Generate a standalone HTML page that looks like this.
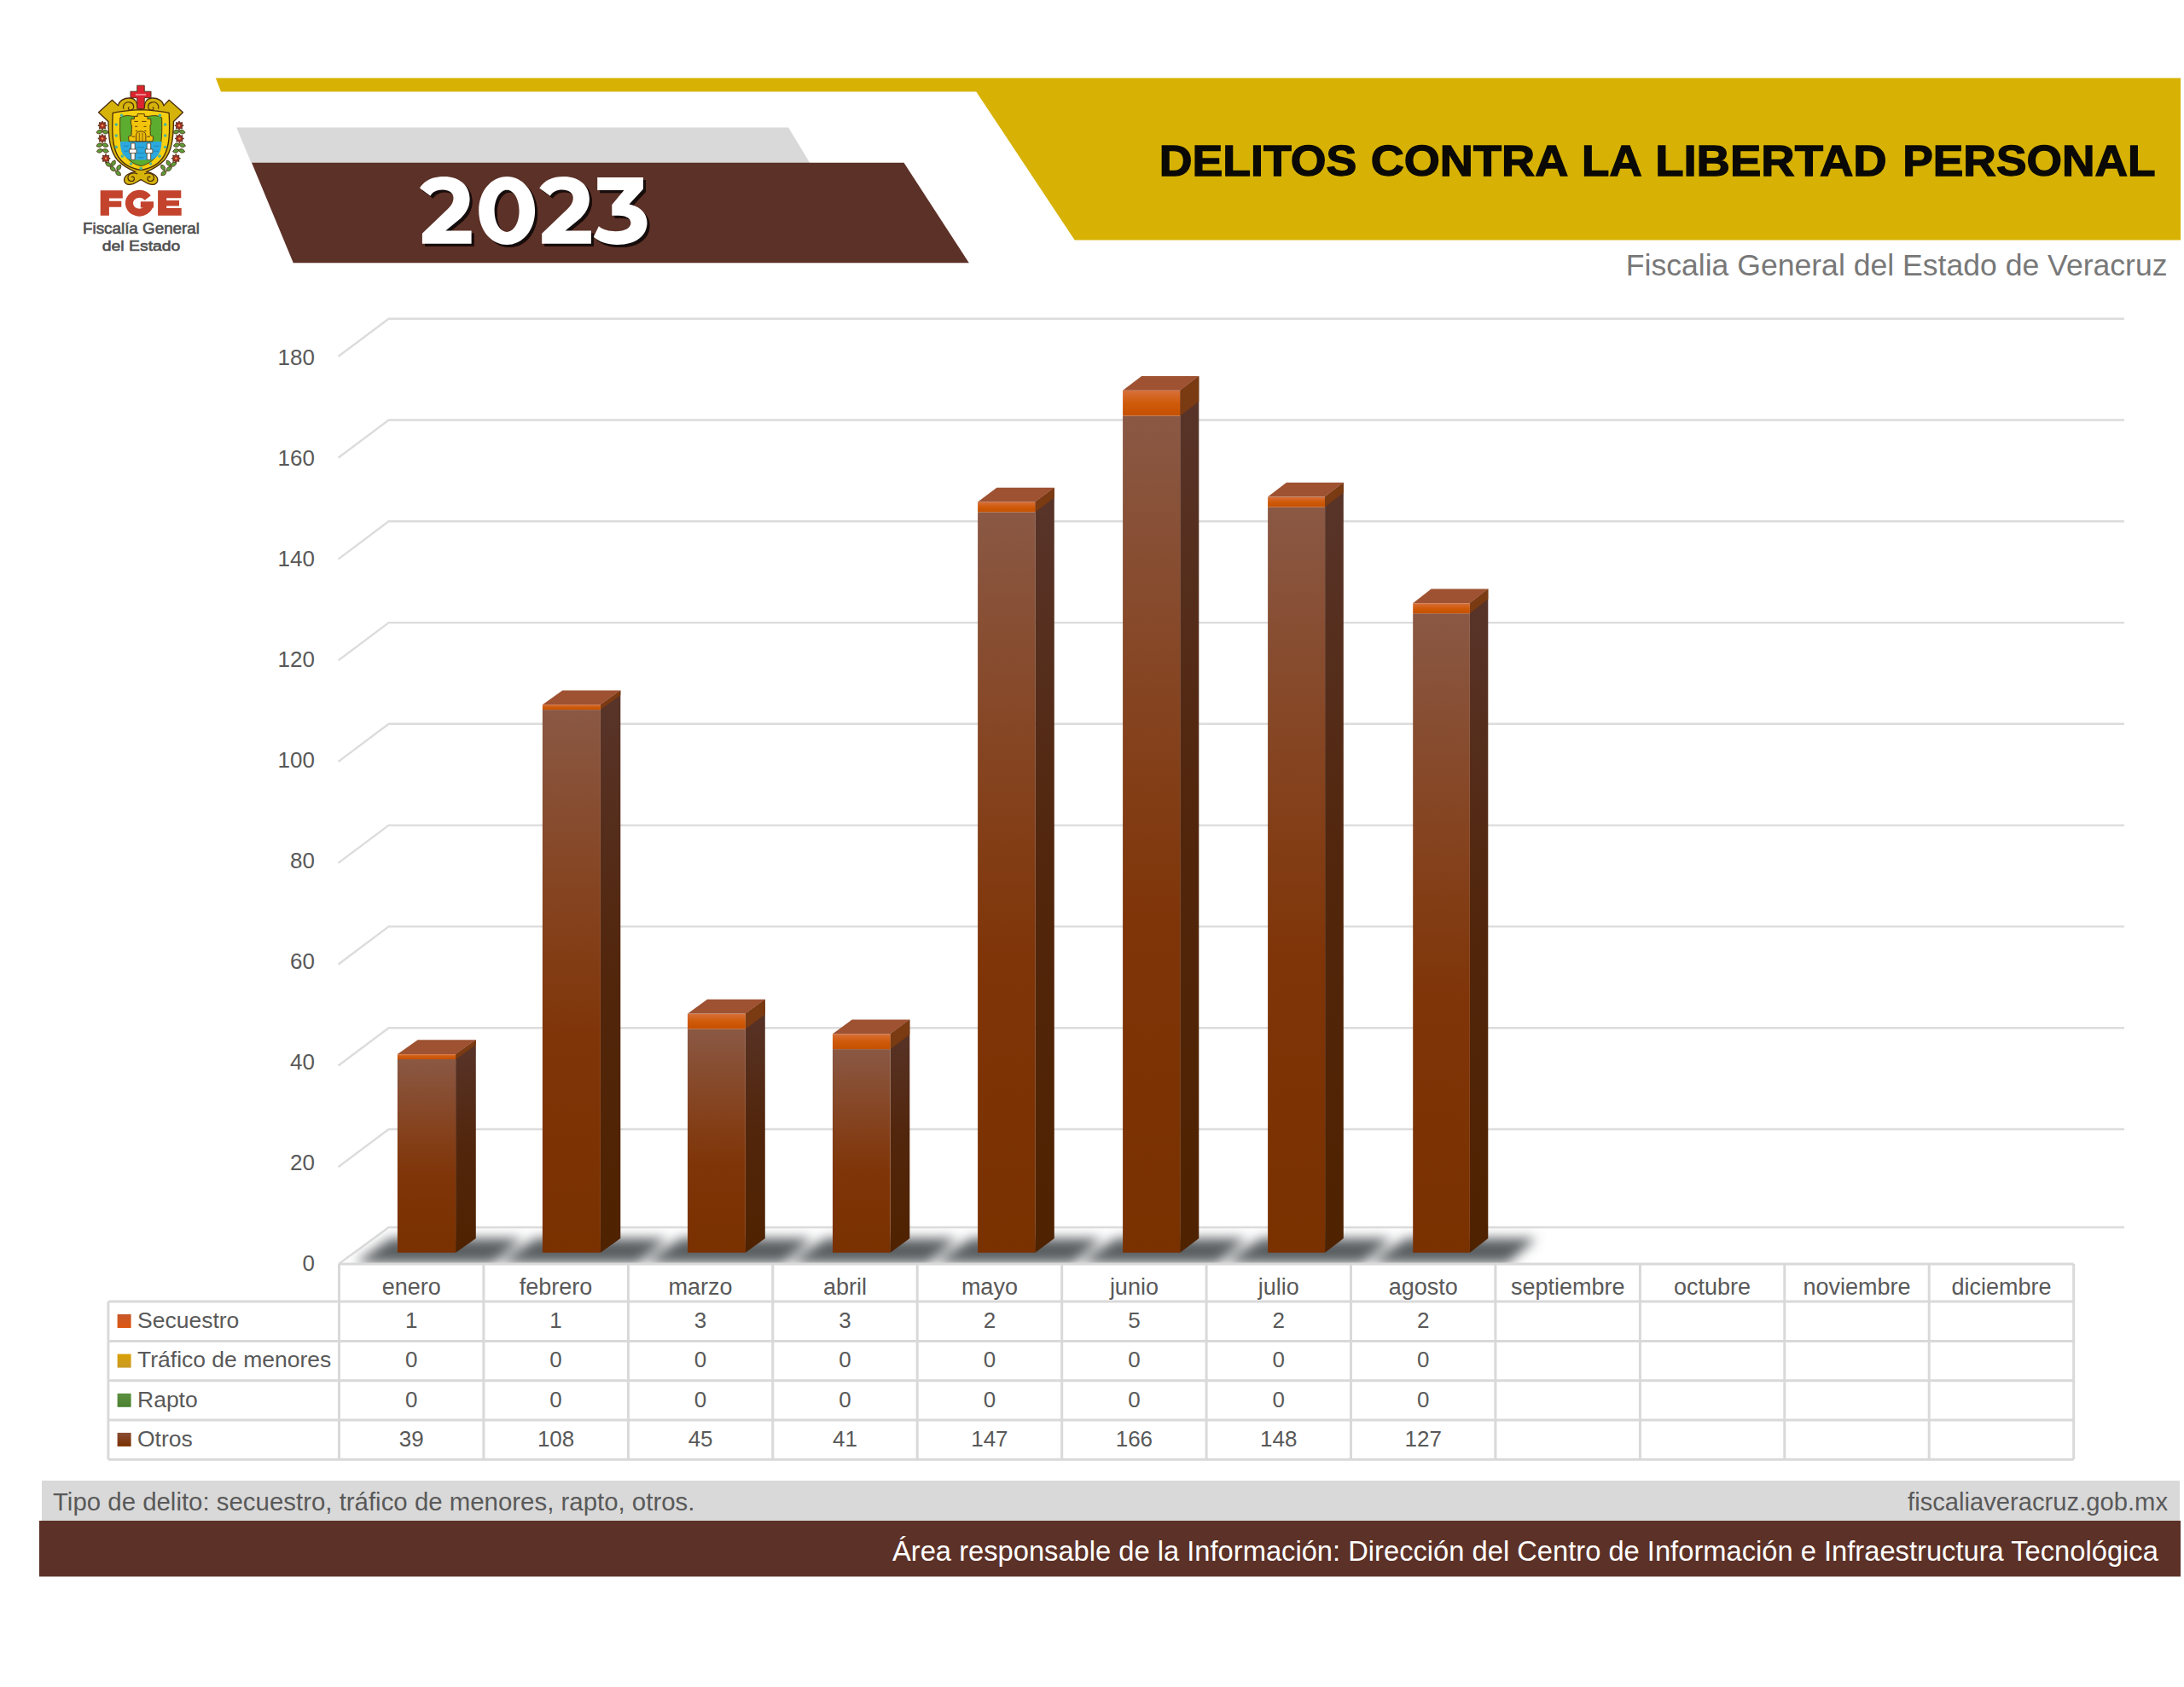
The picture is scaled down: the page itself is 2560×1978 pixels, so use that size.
<!DOCTYPE html>
<html><head><meta charset="utf-8"><title>Delitos contra la libertad personal 2023</title>
<style>html,body{margin:0;padding:0;background:#ffffff;} body{width:2560px;height:1978px;overflow:hidden;} svg{display:block;}</style>
</head><body>
<svg width="2560" height="1978" viewBox="0 0 2560 1978">
<rect width="2560" height="1978" fill="#ffffff"/>
<polygon points="252.8,91.5 2556,91.5 2556,281.6 1259.7,281.6 1144.3,107.4 259,107.4" fill="#d7b204"/>
<polygon points="277.2,149.5 924.2,149.5 949.2,191 294.5,191" fill="#d9d9d9"/>
<polygon points="295,190.8 1059.5,190.8 1135.8,308.2 343.8,308.2" fill="#5c3127"/>
<text x="1358.65" y="206" font-family='"Liberation Sans", sans-serif' font-weight="bold" font-size="50.5" fill="#0a0906" stroke="#0a0906" stroke-width="1.3" textLength="231.8" lengthAdjust="spacingAndGlyphs">DELITOS</text>
<text x="1606.65" y="206" font-family='"Liberation Sans", sans-serif' font-weight="bold" font-size="50.5" fill="#0a0906" stroke="#0a0906" stroke-width="1.3" textLength="231.6" lengthAdjust="spacingAndGlyphs">CONTRA</text>
<text x="1854.1" y="206" font-family='"Liberation Sans", sans-serif' font-weight="bold" font-size="50.5" fill="#0a0906" stroke="#0a0906" stroke-width="1.3" textLength="70.6" lengthAdjust="spacingAndGlyphs">LA</text>
<text x="1940.15" y="206" font-family='"Liberation Sans", sans-serif' font-weight="bold" font-size="50.5" fill="#0a0906" stroke="#0a0906" stroke-width="1.3" textLength="271.6" lengthAdjust="spacingAndGlyphs">LIBERTAD</text>
<text x="2230.15" y="206" font-family='"Liberation Sans", sans-serif' font-weight="bold" font-size="50.5" fill="#0a0906" stroke="#0a0906" stroke-width="1.3" textLength="296.6" lengthAdjust="spacingAndGlyphs">PERSONAL</text>
<text x="1905.8" y="322.7" font-family='"Liberation Sans", sans-serif' font-size="35.4" fill="#787878" textLength="634.7" lengthAdjust="spacingAndGlyphs">Fiscalia General del Estado de Veracruz</text>
<defs><g id="yr"><path d="M492.0,220.4 C498,211 508,206.9 520.3,206.9 C538,206.9 550.6,217 550.6,233 C550.6,242 547,249 540,256 L522.3,270.5 L552.6,270.5 L552.6,285.7 L494.9,285.7 L494.9,273.8 L524.9,245 C529,241 531.5,237 531.5,232 C531.5,226 526,222.4 519,222.4 C512,222.4 507,225 504.5,229.7 Z"/><path d="M594.2,206.9 C612.5,206.9 627.1,224 627.1,247 C627.1,270 612.5,287 594.2,287 C575.9,287 561.2,270 561.2,247 C561.2,224 575.9,206.9 594.2,206.9 Z M594.1,222.7 C586,222.7 579.6,233.5 579.6,247.3 C579.6,261 586,271.9 594.1,271.9 C602.2,271.9 608.6,261 608.6,247.3 C608.6,233.5 602.2,222.7 594.1,222.7 Z" fill-rule="evenodd"/><path d="M492.0,220.4 C498,211 508,206.9 520.3,206.9 C538,206.9 550.6,217 550.6,233 C550.6,242 547,249 540,256 L522.3,270.5 L552.6,270.5 L552.6,285.7 L494.9,285.7 L494.9,273.8 L524.9,245 C529,241 531.5,237 531.5,232 C531.5,226 526,222.4 519,222.4 C512,222.4 507,225 504.5,229.7 Z" transform="translate(140.3,0)"/><path d="M700.2,207.9 L753.9,207.9 L753.9,221.8 L737.5,239.6 C750,242 758.5,250 758.5,261.3 C758.5,276 746,287 723.6,287 C712,287 702,283.5 695.9,277.8 L701.8,265.3 C707,269.5 714,271.2 721.6,271.2 C733,271.2 739.4,267 739.4,261.5 C739.4,256 734,252.7 724.9,252.7 L717.3,252.7 L717.3,240 L731.5,223.1 L700.2,223.1 Z"/></g></defs>
<filter id="sh" x="-10%" y="-10%" width="120%" height="130%"><feGaussianBlur stdDeviation="0.7"/></filter>
<use href="#yr" transform="translate(3.1,3.1)" fill="#140807" filter="url(#sh)"/>
<use href="#yr" fill="#ffffff"/>
<polyline points="396.5,1368.3 455.6,1324.0 2490,1324.0" fill="none" stroke="#dcdcdc" stroke-width="2.4"/>
<polyline points="396.5,1249.5 455.6,1205.2 2490,1205.2" fill="none" stroke="#dcdcdc" stroke-width="2.4"/>
<polyline points="396.5,1130.7 455.6,1086.4 2490,1086.4" fill="none" stroke="#dcdcdc" stroke-width="2.4"/>
<polyline points="396.5,1011.9 455.6,967.6 2490,967.6" fill="none" stroke="#dcdcdc" stroke-width="2.4"/>
<polyline points="396.5,893.1 455.6,848.8 2490,848.8" fill="none" stroke="#dcdcdc" stroke-width="2.4"/>
<polyline points="396.5,774.4 455.6,730.1 2490,730.1" fill="none" stroke="#dcdcdc" stroke-width="2.4"/>
<polyline points="396.5,655.6 455.6,611.3 2490,611.3" fill="none" stroke="#dcdcdc" stroke-width="2.4"/>
<polyline points="396.5,536.8 455.6,492.5 2490,492.5" fill="none" stroke="#dcdcdc" stroke-width="2.4"/>
<polyline points="396.5,418.0 455.6,373.7 2490,373.7" fill="none" stroke="#dcdcdc" stroke-width="2.4"/>
<polyline points="397,1482.0 455.6,1439.0 2490,1439.0" fill="none" stroke="#dcdcdc" stroke-width="2.6" stroke-linejoin="round"/>
<text x="369" y="1490.4" text-anchor="end" font-family='"Liberation Sans", sans-serif' font-size="26" fill="#595959">0</text>
<text x="369" y="1372.4" text-anchor="end" font-family='"Liberation Sans", sans-serif' font-size="26" fill="#595959">20</text>
<text x="369" y="1254.4" text-anchor="end" font-family='"Liberation Sans", sans-serif' font-size="26" fill="#595959">40</text>
<text x="369" y="1136.4" text-anchor="end" font-family='"Liberation Sans", sans-serif' font-size="26" fill="#595959">60</text>
<text x="369" y="1018.4" text-anchor="end" font-family='"Liberation Sans", sans-serif' font-size="26" fill="#595959">80</text>
<text x="369" y="900.4" text-anchor="end" font-family='"Liberation Sans", sans-serif' font-size="26" fill="#595959">100</text>
<text x="369" y="782.4" text-anchor="end" font-family='"Liberation Sans", sans-serif' font-size="26" fill="#595959">120</text>
<text x="369" y="664.4" text-anchor="end" font-family='"Liberation Sans", sans-serif' font-size="26" fill="#595959">140</text>
<text x="369" y="546.4" text-anchor="end" font-family='"Liberation Sans", sans-serif' font-size="26" fill="#595959">160</text>
<text x="369" y="428.4" text-anchor="end" font-family='"Liberation Sans", sans-serif' font-size="26" fill="#595959">180</text>
<filter id="blur" x="-50%" y="-100%" width="200%" height="300%"><feGaussianBlur stdDeviation="7"/></filter>
<clipPath id="floorclip"><polygon points="397,1482 455.6,1439 2490,1439 2490,1482"/></clipPath>
<g clip-path="url(#floorclip)"><g filter="url(#blur)" fill="#5a5e62">
<polygon points="415.9,1481 578.1,1481 612.1,1452 457.9,1452"/>
<polygon points="585.9,1481 747.9,1481 781.9,1452 627.9,1452"/>
<polygon points="756.0,1481 917.8,1481 951.8,1452 798.0,1452"/>
<polygon points="926.0,1481 1087.6,1481 1121.6,1452 968.0,1452"/>
<polygon points="1096.1,1481 1257.4,1481 1291.4,1452 1138.1,1452"/>
<polygon points="1266.1,1481 1427.2,1481 1461.2,1452 1308.1,1452"/>
<polygon points="1436.1,1481 1597.1,1481 1631.1,1452 1478.1,1452"/>
<polygon points="1606.2,1481 1766.9,1481 1800.9,1452 1648.2,1452"/>
</g></g>
<defs>
<linearGradient id="gf" x1="0" y1="0" x2="0" y2="1">
 <stop offset="0" stop-color="#8a5844"/><stop offset="0.35" stop-color="#85431f"/><stop offset="0.6" stop-color="#7f3508"/><stop offset="1" stop-color="#7a3100"/>
</linearGradient>
<linearGradient id="gs" x1="0" y1="0" x2="0" y2="1">
 <stop offset="0" stop-color="#58342a"/><stop offset="0.5" stop-color="#52260c"/><stop offset="1" stop-color="#4f2200"/>
</linearGradient>
<linearGradient id="go" x1="0" y1="0" x2="0" y2="1">
 <stop offset="0" stop-color="#d8703a"/><stop offset="0.5" stop-color="#cf5a0a"/><stop offset="1" stop-color="#c55000"/>
</linearGradient>
</defs>
<polygon points="534.1,1236.1 557.8,1219.3 557.8,1451.9 534.1,1468.7" fill="url(#gs)"/>
<polygon points="534.1,1236.1 557.8,1219.3 557.8,1225.2 534.1,1242.0" fill="#7a3a12"/>
<rect x="465.9" y="1242.0" width="68.2" height="226.7" fill="url(#gf)"/>
<rect x="465.9" y="1236.1" width="68.2" height="5.9" fill="url(#go)"/>
<polygon points="465.9,1236.1 489.6,1219.3 557.8,1219.3 534.1,1236.1" fill="#9e5232"/>
<polygon points="703.9,826.2 727.3,809.4 727.3,1451.9 703.9,1468.7" fill="url(#gs)"/>
<polygon points="703.9,826.2 727.3,809.4 727.3,815.3 703.9,832.1" fill="#7a3a12"/>
<rect x="635.9" y="832.1" width="68.0" height="636.6" fill="url(#gf)"/>
<rect x="635.9" y="826.2" width="68.0" height="5.9" fill="url(#go)"/>
<polygon points="635.9,826.2 659.3,809.4 727.3,809.4 703.9,826.2" fill="#9e5232"/>
<polygon points="873.8,1188.6 896.8,1171.8 896.8,1451.9 873.8,1468.7" fill="url(#gs)"/>
<polygon points="873.8,1188.6 896.8,1171.8 896.8,1189.6 873.8,1206.4" fill="#7a3a12"/>
<rect x="806.0" y="1206.4" width="67.8" height="262.3" fill="url(#gf)"/>
<rect x="806.0" y="1188.6" width="67.8" height="17.8" fill="url(#go)"/>
<polygon points="806.0,1188.6 829.0,1171.8 896.8,1171.8 873.8,1188.6" fill="#9e5232"/>
<polygon points="1043.6,1212.3 1066.3,1195.5 1066.3,1451.9 1043.6,1468.7" fill="url(#gs)"/>
<polygon points="1043.6,1212.3 1066.3,1195.5 1066.3,1213.3 1043.6,1230.1" fill="#7a3a12"/>
<rect x="976.0" y="1230.1" width="67.6" height="238.6" fill="url(#gf)"/>
<rect x="976.0" y="1212.3" width="67.6" height="17.8" fill="url(#go)"/>
<polygon points="976.0,1212.3 998.7,1195.5 1066.3,1195.5 1043.6,1212.3" fill="#9e5232"/>
<polygon points="1213.4,588.5 1235.8,571.7 1235.8,1451.9 1213.4,1468.7" fill="url(#gs)"/>
<polygon points="1213.4,588.5 1235.8,571.7 1235.8,583.6 1213.4,600.4" fill="#7a3a12"/>
<rect x="1146.1" y="600.4" width="67.4" height="868.3" fill="url(#gf)"/>
<rect x="1146.1" y="588.5" width="67.4" height="11.9" fill="url(#go)"/>
<polygon points="1146.1,588.5 1168.4,571.7 1235.8,571.7 1213.4,588.5" fill="#9e5232"/>
<polygon points="1383.2,457.8 1405.3,441.0 1405.3,1451.9 1383.2,1468.7" fill="url(#gs)"/>
<polygon points="1383.2,457.8 1405.3,441.0 1405.3,470.7 1383.2,487.5" fill="#7a3a12"/>
<rect x="1316.1" y="487.5" width="67.2" height="981.2" fill="url(#gf)"/>
<rect x="1316.1" y="457.8" width="67.2" height="29.7" fill="url(#go)"/>
<polygon points="1316.1,457.8 1338.1,441.0 1405.3,441.0 1383.2,457.8" fill="#9e5232"/>
<polygon points="1553.1,582.6 1574.8,565.8 1574.8,1451.9 1553.1,1468.7" fill="url(#gs)"/>
<polygon points="1553.1,582.6 1574.8,565.8 1574.8,577.7 1553.1,594.5" fill="#7a3a12"/>
<rect x="1486.1" y="594.5" width="66.9" height="874.2" fill="url(#gf)"/>
<rect x="1486.1" y="582.6" width="66.9" height="11.9" fill="url(#go)"/>
<polygon points="1486.1,582.6 1507.9,565.8 1574.8,565.8 1553.1,582.6" fill="#9e5232"/>
<polygon points="1722.9,707.3 1744.3,690.5 1744.3,1451.9 1722.9,1468.7" fill="url(#gs)"/>
<polygon points="1722.9,707.3 1744.3,690.5 1744.3,702.4 1722.9,719.2" fill="#7a3a12"/>
<rect x="1656.2" y="719.2" width="66.7" height="749.5" fill="url(#gf)"/>
<rect x="1656.2" y="707.3" width="66.7" height="11.9" fill="url(#go)"/>
<polygon points="1656.2,707.3 1677.6,690.5 1744.3,690.5 1722.9,707.3" fill="#9e5232"/>
<g stroke="#d9d9d9" stroke-width="3" fill="none">
<line x1="397.5" y1="1482" x2="2430.66" y2="1482"/>
<line x1="126.9" y1="1526" x2="2430.66" y2="1526"/>
<line x1="126.9" y1="1572.6" x2="2430.66" y2="1572.6"/>
<line x1="126.9" y1="1618.8" x2="2430.66" y2="1618.8"/>
<line x1="126.9" y1="1664.9" x2="2430.66" y2="1664.9"/>
<line x1="126.9" y1="1711.2" x2="2430.66" y2="1711.2"/>
<line x1="126.9" y1="1526" x2="126.9" y2="1711.2"/>
<line x1="397.5" y1="1482" x2="397.5" y2="1711.2"/>
<line x1="566.9" y1="1482" x2="566.9" y2="1711.2"/>
<line x1="736.4" y1="1482" x2="736.4" y2="1711.2"/>
<line x1="905.8" y1="1482" x2="905.8" y2="1711.2"/>
<line x1="1075.2" y1="1482" x2="1075.2" y2="1711.2"/>
<line x1="1244.7" y1="1482" x2="1244.7" y2="1711.2"/>
<line x1="1414.1" y1="1482" x2="1414.1" y2="1711.2"/>
<line x1="1583.5" y1="1482" x2="1583.5" y2="1711.2"/>
<line x1="1752.9" y1="1482" x2="1752.9" y2="1711.2"/>
<line x1="1922.4" y1="1482" x2="1922.4" y2="1711.2"/>
<line x1="2091.8" y1="1482" x2="2091.8" y2="1711.2"/>
<line x1="2261.2" y1="1482" x2="2261.2" y2="1711.2"/>
<line x1="2430.7" y1="1482" x2="2430.7" y2="1711.2"/>
</g>
<text x="482.2" y="1518.2" text-anchor="middle" font-family='"Liberation Sans", sans-serif' font-size="27" fill="#595959">enero</text>
<text x="651.6" y="1518.2" text-anchor="middle" font-family='"Liberation Sans", sans-serif' font-size="27" fill="#595959">febrero</text>
<text x="821.1" y="1518.2" text-anchor="middle" font-family='"Liberation Sans", sans-serif' font-size="27" fill="#595959">marzo</text>
<text x="990.5" y="1518.2" text-anchor="middle" font-family='"Liberation Sans", sans-serif' font-size="27" fill="#595959">abril</text>
<text x="1159.9" y="1518.2" text-anchor="middle" font-family='"Liberation Sans", sans-serif' font-size="27" fill="#595959">mayo</text>
<text x="1329.4" y="1518.2" text-anchor="middle" font-family='"Liberation Sans", sans-serif' font-size="27" fill="#595959">junio</text>
<text x="1498.8" y="1518.2" text-anchor="middle" font-family='"Liberation Sans", sans-serif' font-size="27" fill="#595959">julio</text>
<text x="1668.2" y="1518.2" text-anchor="middle" font-family='"Liberation Sans", sans-serif' font-size="27" fill="#595959">agosto</text>
<text x="1837.7" y="1518.2" text-anchor="middle" font-family='"Liberation Sans", sans-serif' font-size="27" fill="#595959">septiembre</text>
<text x="2007.1" y="1518.2" text-anchor="middle" font-family='"Liberation Sans", sans-serif' font-size="27" fill="#595959">octubre</text>
<text x="2176.5" y="1518.2" text-anchor="middle" font-family='"Liberation Sans", sans-serif' font-size="27" fill="#595959">noviembre</text>
<text x="2345.9" y="1518.2" text-anchor="middle" font-family='"Liberation Sans", sans-serif' font-size="27" fill="#595959">diciembre</text>
<defs><linearGradient id="l0" x1="0" y1="0" x2="0" y2="1"><stop offset="0" stop-color="#c8582c"/><stop offset="1" stop-color="#dc5810"/></linearGradient><linearGradient id="l1" x1="0" y1="0" x2="0" y2="1"><stop offset="0" stop-color="#d9a106"/><stop offset="1" stop-color="#c99a24"/></linearGradient><linearGradient id="l2" x1="0" y1="0" x2="0" y2="1"><stop offset="0" stop-color="#5b9140"/><stop offset="1" stop-color="#4a8030"/></linearGradient><linearGradient id="l3" x1="0" y1="0" x2="0" y2="1"><stop offset="0" stop-color="#8a4c34"/><stop offset="1" stop-color="#7a3000"/></linearGradient></defs>
<rect x="137.6" y="1541.0" width="16" height="16" fill="url(#l0)"/>
<text x="161" y="1556.7" font-family='"Liberation Sans", sans-serif' font-size="26.5" fill="#595959">Secuestro</text>
<text x="482.2" y="1556.7" text-anchor="middle" font-family='"Liberation Sans", sans-serif' font-size="26" fill="#595959">1</text>
<text x="651.6" y="1556.7" text-anchor="middle" font-family='"Liberation Sans", sans-serif' font-size="26" fill="#595959">1</text>
<text x="821.1" y="1556.7" text-anchor="middle" font-family='"Liberation Sans", sans-serif' font-size="26" fill="#595959">3</text>
<text x="990.5" y="1556.7" text-anchor="middle" font-family='"Liberation Sans", sans-serif' font-size="26" fill="#595959">3</text>
<text x="1159.9" y="1556.7" text-anchor="middle" font-family='"Liberation Sans", sans-serif' font-size="26" fill="#595959">2</text>
<text x="1329.4" y="1556.7" text-anchor="middle" font-family='"Liberation Sans", sans-serif' font-size="26" fill="#595959">5</text>
<text x="1498.8" y="1556.7" text-anchor="middle" font-family='"Liberation Sans", sans-serif' font-size="26" fill="#595959">2</text>
<text x="1668.2" y="1556.7" text-anchor="middle" font-family='"Liberation Sans", sans-serif' font-size="26" fill="#595959">2</text>
<rect x="137.6" y="1587.6" width="16" height="16" fill="url(#l1)"/>
<text x="161" y="1603.3" font-family='"Liberation Sans", sans-serif' font-size="26.5" fill="#595959">Tráfico de menores</text>
<text x="482.2" y="1603.3" text-anchor="middle" font-family='"Liberation Sans", sans-serif' font-size="26" fill="#595959">0</text>
<text x="651.6" y="1603.3" text-anchor="middle" font-family='"Liberation Sans", sans-serif' font-size="26" fill="#595959">0</text>
<text x="821.1" y="1603.3" text-anchor="middle" font-family='"Liberation Sans", sans-serif' font-size="26" fill="#595959">0</text>
<text x="990.5" y="1603.3" text-anchor="middle" font-family='"Liberation Sans", sans-serif' font-size="26" fill="#595959">0</text>
<text x="1159.9" y="1603.3" text-anchor="middle" font-family='"Liberation Sans", sans-serif' font-size="26" fill="#595959">0</text>
<text x="1329.4" y="1603.3" text-anchor="middle" font-family='"Liberation Sans", sans-serif' font-size="26" fill="#595959">0</text>
<text x="1498.8" y="1603.3" text-anchor="middle" font-family='"Liberation Sans", sans-serif' font-size="26" fill="#595959">0</text>
<text x="1668.2" y="1603.3" text-anchor="middle" font-family='"Liberation Sans", sans-serif' font-size="26" fill="#595959">0</text>
<rect x="137.6" y="1633.8" width="16" height="16" fill="url(#l2)"/>
<text x="161" y="1649.5" font-family='"Liberation Sans", sans-serif' font-size="26.5" fill="#595959">Rapto</text>
<text x="482.2" y="1649.5" text-anchor="middle" font-family='"Liberation Sans", sans-serif' font-size="26" fill="#595959">0</text>
<text x="651.6" y="1649.5" text-anchor="middle" font-family='"Liberation Sans", sans-serif' font-size="26" fill="#595959">0</text>
<text x="821.1" y="1649.5" text-anchor="middle" font-family='"Liberation Sans", sans-serif' font-size="26" fill="#595959">0</text>
<text x="990.5" y="1649.5" text-anchor="middle" font-family='"Liberation Sans", sans-serif' font-size="26" fill="#595959">0</text>
<text x="1159.9" y="1649.5" text-anchor="middle" font-family='"Liberation Sans", sans-serif' font-size="26" fill="#595959">0</text>
<text x="1329.4" y="1649.5" text-anchor="middle" font-family='"Liberation Sans", sans-serif' font-size="26" fill="#595959">0</text>
<text x="1498.8" y="1649.5" text-anchor="middle" font-family='"Liberation Sans", sans-serif' font-size="26" fill="#595959">0</text>
<text x="1668.2" y="1649.5" text-anchor="middle" font-family='"Liberation Sans", sans-serif' font-size="26" fill="#595959">0</text>
<rect x="137.6" y="1679.9" width="16" height="16" fill="url(#l3)"/>
<text x="161" y="1695.6" font-family='"Liberation Sans", sans-serif' font-size="26.5" fill="#595959">Otros</text>
<text x="482.2" y="1695.6" text-anchor="middle" font-family='"Liberation Sans", sans-serif' font-size="26" fill="#595959">39</text>
<text x="651.6" y="1695.6" text-anchor="middle" font-family='"Liberation Sans", sans-serif' font-size="26" fill="#595959">108</text>
<text x="821.1" y="1695.6" text-anchor="middle" font-family='"Liberation Sans", sans-serif' font-size="26" fill="#595959">45</text>
<text x="990.5" y="1695.6" text-anchor="middle" font-family='"Liberation Sans", sans-serif' font-size="26" fill="#595959">41</text>
<text x="1159.9" y="1695.6" text-anchor="middle" font-family='"Liberation Sans", sans-serif' font-size="26" fill="#595959">147</text>
<text x="1329.4" y="1695.6" text-anchor="middle" font-family='"Liberation Sans", sans-serif' font-size="26" fill="#595959">166</text>
<text x="1498.8" y="1695.6" text-anchor="middle" font-family='"Liberation Sans", sans-serif' font-size="26" fill="#595959">148</text>
<text x="1668.2" y="1695.6" text-anchor="middle" font-family='"Liberation Sans", sans-serif' font-size="26" fill="#595959">127</text>
<rect x="49" y="1736" width="2506" height="47" fill="#d9d9d9"/>
<rect x="46" y="1783" width="2510" height="65.5" fill="#5c3127"/>
<text x="62" y="1771" font-family='"Liberation Sans", sans-serif' font-size="29.42" fill="#595959">Tipo de delito: secuestro, tráfico de menores, rapto, otros.</text>
<text x="2541" y="1770.7" text-anchor="end" font-family='"Liberation Sans", sans-serif' font-size="29.2" fill="#595959">fiscaliaveracruz.gob.mx</text>
<text x="1046" y="1830.3" font-family='"Liberation Sans", sans-serif' font-size="32.7" fill="#ffffff">Área responsable de la Información: Dirección del Centro de Información e Infraestructura Tecnológica</text>
<g transform="translate(110,95) scale(0.074074)" stroke="#4a2c0c" stroke-width="18" stroke-linejoin="round">
<path d="M75,495 L290,300 L385,390 C400,310 480,265 570,270 C650,275 690,330 690,420 L800,420 C800,330 840,275 920,270 C1010,265 1090,310 1105,390 L1190,300 L1410,495 L1262,640 C1258,900 1235,1120 1110,1260 C1010,1360 900,1410 830,1440 C930,1450 1010,1500 1010,1570 C1005,1640 930,1650 870,1630 C820,1610 780,1580 745,1560 C710,1580 670,1610 620,1630 C560,1650 485,1640 480,1570 C480,1500 560,1450 660,1440 C590,1410 480,1360 380,1260 C255,1120 232,900 228,640 Z" fill="#d5b30b"/>
<g fill="none" stroke-width="16">
<path d="M470,440 C450,360 520,320 580,340 C640,360 650,440 590,460 C550,470 530,430 560,410"/>
<path d="M1020,440 C1040,360 970,320 910,340 C850,360 840,440 900,460 C940,470 960,430 930,410"/>
<path d="M690,1470 C620,1440 530,1470 540,1540 C550,1600 630,1600 640,1550 C645,1515 610,1505 595,1525"/>
<path d="M800,1470 C870,1440 960,1470 950,1540 C940,1600 860,1600 850,1550 C845,1515 880,1505 895,1525"/>
</g>
<path d="M300,505 C400,480 520,470 620,460 L745,455 L870,460 C970,470 1090,480 1190,505 C1205,800 1200,1020 1115,1180 C1040,1310 900,1385 745,1410 C590,1385 450,1310 375,1180 C290,1020 285,800 300,505 Z" fill="#f6d010"/>
<path d="M415,580 C470,545 540,540 600,555 C650,565 700,555 745,540 C790,555 840,565 890,555 C950,540 1020,545 1075,580 C1080,800 1080,1000 1020,1140 C960,1250 860,1320 745,1345 C630,1320 530,1250 470,1140 C410,1000 410,800 415,580 Z" fill="#5cad2f" stroke-width="12"/>
<path d="M418,960 L1072,960 C1072,1040 1060,1100 1030,1150 C990,1210 950,1240 900,1250 L590,1250 C540,1240 490,1200 455,1150 C425,1100 418,1040 418,960 Z" fill="#2ba8de" stroke="none"/>
<g stroke="#1d6f9a" stroke-width="8" fill="none"><path d="M470,1030 h80 M950,1030 h80 M480,1110 h70 M950,1110 h70 M680,1050 h120 M690,1140 h110 M700,1210 h90"/></g>
<path d="M555,955 L548,880 L595,860 L600,700 L585,690 L590,600 L640,600 L640,560 L690,560 L690,520 L800,520 L800,560 L850,560 L850,600 L900,600 L905,690 L890,700 L895,860 L940,880 L932,955 Z" fill="#f2c40c" stroke-width="12"/>
<g stroke-width="12" fill="none"><path d="M640,640 h60 M760,640 h70 M650,720 h40 M790,720 h40 M660,790 h30 M800,790 h30 M600,880 h50 M840,880 h50"/></g>
<path d="M668,955 L668,860 C668,815 700,795 745,795 C790,795 822,815 822,860 L822,955 Z" fill="#e8b80a" stroke-width="12"/>
<g stroke-width="8" fill="none"><path d="M720,820 v130 M770,820 v130"/></g>
<g fill="#ffffff" stroke-width="10"><rect x="590" y="985" width="60" height="260"/><rect x="840" y="985" width="60" height="260"/><rect x="560" y="1080" width="115" height="60"/><rect x="815" y="1080" width="115" height="60"/></g>
<g fill="#48b59a" stroke="none">
<circle cx="440" cy="545" r="24"/>
<circle cx="355" cy="690" r="24"/>
<circle cx="355" cy="865" r="24"/>
<circle cx="355" cy="1045" r="24"/>
<circle cx="450" cy="1190" r="24"/>
<circle cx="590" cy="1310" r="24"/>
<circle cx="745" cy="1385" r="24"/>
<circle cx="900" cy="1310" r="24"/>
<circle cx="1040" cy="1190" r="24"/>
<circle cx="1130" cy="1045" r="24"/>
<circle cx="1130" cy="865" r="24"/>
<circle cx="1130" cy="690" r="24"/>
<circle cx="1045" cy="545" r="24"/>
</g>
<path d="M685,70 L800,70 L800,165 L905,165 L905,265 L800,265 L800,440 L685,440 L685,265 L580,265 L580,165 L685,165 Z" fill="#dc2430" stroke-width="12"/>
<path d="M660,215 h165" stroke="#ffffff" stroke-width="22" opacity="0.55"/>
<polygon points="135,635 152,663 184,656 177,688 205,705 177,722 184,754 152,747 135,775 118,747 86,754 93,722 65,705 93,688 86,656 118,663" fill="#a5302a" stroke-width="12"/><circle cx="135" cy="705" r="16" fill="#f39a4a" stroke="none"/>
<polygon points="135,840 152,868 184,861 177,893 205,910 177,927 184,959 152,952 135,980 118,952 86,959 93,927 65,910 93,893 86,861 118,868" fill="#a5302a" stroke-width="12"/><circle cx="135" cy="910" r="16" fill="#f39a4a" stroke="none"/>
<polygon points="190,1155 207,1183 239,1176 232,1208 260,1225 232,1242 239,1274 207,1267 190,1295 173,1267 141,1274 148,1242 120,1225 148,1208 141,1176 173,1183" fill="#a5302a" stroke-width="12"/><circle cx="190" cy="1225" r="16" fill="#f39a4a" stroke="none"/>
<polygon points="1350,635 1367,663 1399,656 1392,688 1420,705 1392,722 1399,754 1367,747 1350,775 1333,747 1301,754 1308,722 1280,705 1308,688 1301,656 1333,663" fill="#a5302a" stroke-width="12"/><circle cx="1350" cy="705" r="16" fill="#f39a4a" stroke="none"/>
<polygon points="1355,840 1372,868 1404,861 1397,893 1425,910 1397,927 1404,959 1372,952 1355,980 1338,952 1306,959 1313,927 1285,910 1313,893 1306,861 1338,868" fill="#a5302a" stroke-width="12"/><circle cx="1355" cy="910" r="16" fill="#f39a4a" stroke="none"/>
<polygon points="1300,1155 1317,1183 1349,1176 1342,1208 1370,1225 1342,1242 1349,1274 1317,1267 1300,1295 1283,1267 1251,1274 1258,1242 1230,1225 1258,1208 1251,1176 1283,1183" fill="#a5302a" stroke-width="12"/><circle cx="1300" cy="1225" r="16" fill="#f39a4a" stroke="none"/>
<path d="M40,818 Q106,865 140,792 Q74,745 40,818 Z" fill="#5e9c3a" stroke-width="11"/>
<path d="M130,792 Q164,865 230,818 Q196,745 130,792 Z" fill="#5e9c3a" stroke-width="11"/>
<path d="M40,1028 Q106,1075 140,1002 Q74,955 40,1028 Z" fill="#5e9c3a" stroke-width="11"/>
<path d="M130,1002 Q164,1075 230,1028 Q196,955 130,1002 Z" fill="#5e9c3a" stroke-width="11"/>
<path d="M45,1118 Q111,1165 145,1092 Q79,1045 45,1118 Z" fill="#5e9c3a" stroke-width="11"/>
<path d="M135,1092 Q169,1165 235,1118 Q201,1045 135,1092 Z" fill="#5e9c3a" stroke-width="11"/>
<path d="M1255,818 Q1321,865 1355,792 Q1289,745 1255,818 Z" fill="#5e9c3a" stroke-width="11"/>
<path d="M1345,792 Q1379,865 1445,818 Q1411,745 1345,792 Z" fill="#5e9c3a" stroke-width="11"/>
<path d="M1260,1028 Q1326,1075 1360,1002 Q1294,955 1260,1028 Z" fill="#5e9c3a" stroke-width="11"/>
<path d="M1350,1002 Q1384,1075 1450,1028 Q1416,955 1350,1002 Z" fill="#5e9c3a" stroke-width="11"/>
<path d="M1250,1118 Q1316,1165 1350,1092 Q1284,1045 1250,1118 Z" fill="#5e9c3a" stroke-width="11"/>
<path d="M1340,1092 Q1374,1165 1440,1118 Q1406,1045 1340,1092 Z" fill="#5e9c3a" stroke-width="11"/>
<path d="M185,1294 Q199,1373 275,1346 Q261,1267 185,1294 Z" fill="#5e9c3a" stroke-width="11"/>
<path d="M257,1360 Q265,1440 343,1420 Q335,1340 257,1360 Z" fill="#5e9c3a" stroke-width="11"/>
<path d="M345,1427 Q345,1507 425,1493 Q425,1413 345,1427 Z" fill="#5e9c3a" stroke-width="11"/>
<path d="M1215,1346 Q1291,1373 1305,1294 Q1229,1267 1215,1346 Z" fill="#5e9c3a" stroke-width="11"/>
<path d="M1147,1420 Q1225,1440 1233,1360 Q1155,1340 1147,1420 Z" fill="#5e9c3a" stroke-width="11"/>
<path d="M1065,1493 Q1145,1507 1145,1427 Q1065,1413 1065,1493 Z" fill="#5e9c3a" stroke-width="11"/>
<path d="M284,1345 Q363,1331 336,1255 Q257,1269 284,1345 Z" fill="#5e9c3a" stroke-width="11"/>
<path d="M365,1413 Q445,1405 425,1327 Q345,1335 365,1413 Z" fill="#5e9c3a" stroke-width="11"/>
<path d="M1154,1255 Q1127,1331 1206,1345 Q1233,1269 1154,1255 Z" fill="#5e9c3a" stroke-width="11"/>
<path d="M1065,1327 Q1045,1405 1125,1413 Q1145,1335 1065,1327 Z" fill="#5e9c3a" stroke-width="11"/>
</g>
<g fill="#c3432d"><path d="M117.7,223.2 L143.8,223.2 L143.8,232.4 L127.9,232.4 L127.9,235.7 L142.3,235.7 L142.3,242.7 L127.9,242.7 L127.9,252.8 L117.7,252.8 Z"/><path d="M185.1,223.2 L212.3,223.2 L212.3,232.2 L195.2,232.2 L195.2,234.9 L210,234.9 L210,241.5 L195.2,241.5 L195.2,243.9 L212.7,243.9 L212.7,252.8 L185.1,252.8 Z"/><rect x="164.8" y="236.3" width="15.2" height="7.2"/></g>
<path d="M173.23,231.95 A12,10.9 0 1 0 175.4,238.3" fill="none" stroke="#c3432d" stroke-width="9"/>
<text x="97" y="273.6" font-family='"Liberation Sans", sans-serif' font-size="17.6" fill="#505050" stroke="#505050" stroke-width="0.6" textLength="137" lengthAdjust="spacingAndGlyphs">Fiscalía General</text>
<text x="119.8" y="294" font-family='"Liberation Sans", sans-serif' font-size="17.3" fill="#505050" stroke="#505050" stroke-width="0.6" textLength="91.6" lengthAdjust="spacingAndGlyphs">del Estado</text>
</svg>
</body></html>
